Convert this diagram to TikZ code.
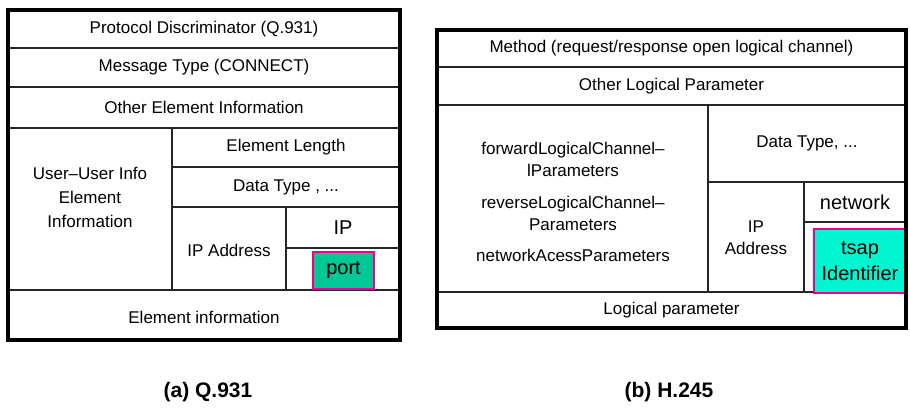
\documentclass[tikz,border=0pt]{standalone}
\usepackage{fontspec}
\setmainfont{Liberation Sans}
\definecolor{portgreen}{RGB}{0,200,150}
\definecolor{tsapcyan}{RGB}{0,245,208}
\begin{document}
\begin{tikzpicture}[x=1pt,y=-1pt,
  grid/.style={line width=1.3pt, black!85},
  frame/.style={line width=4pt, black},
  lbl/.style={inner sep=0pt, align=center, font=\fontsize{17}{22}\selectfont},
  biglbl/.style={lbl, font=\fontsize{20}{26}\selectfont},
  captext/.style={inner sep=0pt, font=\bfseries\fontsize{21}{24}\selectfont},
  hl/.style={draw=magenta, line width=1.2pt, inner sep=0pt}]
\useasboundingbox (0,0) rectangle (910,407);

% ---- (a) Q.931 message layout ----
\draw[grid] (8,48) -- (400,48) (8,87) -- (400,87) (8,128) -- (400,128)
  (172,167) -- (400,167) (172,207) -- (400,207) (286,248) -- (400,248)
  (8,290) -- (400,290) (172,128) -- (172,290) (286,207) -- (286,290);
\node[lbl] (pd) at (204,29) {Protocol Discriminator (Q.931)};
\node[lbl] (mt) at (204,67.5) {Message Type (CONNECT)};
\node[lbl] (oei) at (204,107.5) {Other Element Information};
\node[lbl, font=\fontsize{17}{24}\selectfont] (uui) at (90,197) {User–User Info\\Element\\Information};
\node[lbl] (el) at (286,147.5) {Element Length};
\node[lbl] (dt) at (286,187) {Data Type , ...};
\node[lbl] (ipa) at (229,250) {IP Address};
\node[biglbl] (ip) at (343,227.5) {IP};
\node[biglbl, hl, fill=portgreen, minimum width=61pt, minimum height=37pt] (port) at (343.5,270.5) {port};
\node[lbl] (ei) at (204,317) {Element information};
\draw[frame] (8,10) rectangle (400,340);

% ---- (b) H.245 message layout ----
\draw[grid] (437,67) -- (906,67) (437,105) -- (906,105) (708,182) -- (906,182)
  (804,222) -- (906,222) (437,292) -- (906,292) (708,105) -- (708,292)
  (804,182) -- (804,292);
\node[lbl] (meth) at (671.5,48.5) {Method (request/response open logical channel)};
\node[lbl] (olp) at (671.5,86) {Other Logical Parameter};
\node[lbl] (fwd) at (573,159) {forwardLogicalChannel–\\lParameters};
\node[lbl] (rev) at (573,213.5) {reverseLogicalChannel–\\Parameters};
\node[lbl] (nap) at (573,255) {networkAcessParameters};
\node[lbl] (dt2) at (807,143.5) {Data Type, ...};
\node[lbl] (ipa2) at (756,238) {IP\\Address};
\node[biglbl] (net) at (855,202) {network};
\node[biglbl, hl, fill=tsapcyan, minimum width=92pt, minimum height=64pt] (tsap) at (860,261) {tsap\\Identifier};
\node[lbl] (lp) at (671.5,310) {Logical parameter};
\draw[frame] (437,30) rectangle (906,328);

% ---- captions ----
\node[captext] (capa) at (208,392) {(a) Q.931};
\node[captext] (capb) at (669,392) {(b) H.245};
\end{tikzpicture}
\end{document}
